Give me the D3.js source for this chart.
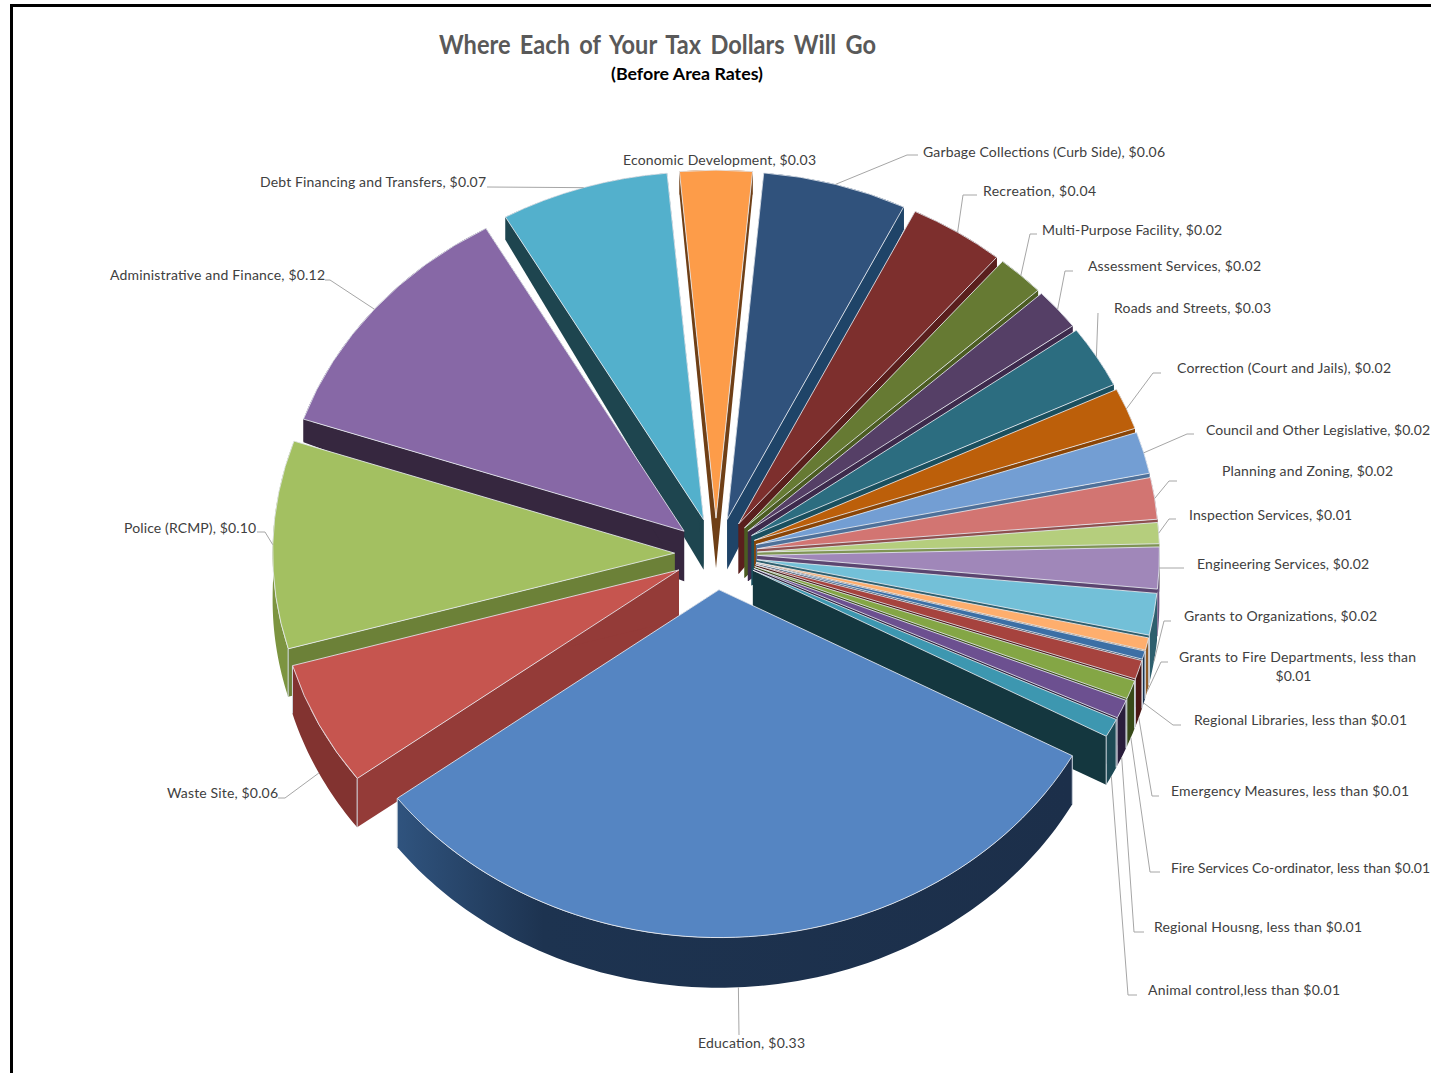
<!DOCTYPE html>
<html>
<head>
<meta charset="utf-8">
<style>
html,body{margin:0;padding:0;background:#fff;overflow:hidden}
svg{display:block}
text{font-family:Lato,"Open Sans",sans-serif}
</style>
<script src="https://cdn.jsdelivr.net/npm/d3@7/dist/d3.min.js"></script>
</head>
<body>
<script>
// Budget shares, clockwise from the right-hand edge of Education.
const categories = ["Education","Waste Site","Police (RCMP)","Administrative and Finance","Debt Financing and Transfers","Economic Development","Garbage Collections (Curb Side)","Recreation","Multi-Purpose Facility","Assessment Services","Roads and Streets","Correction (Court and Jails)","Council and Other Legislative","Planning and Zoning","Inspection Services","Engineering Services","Grants to Organizations","Grants to Fire Departments","Regional Libraries","Emergency Measures","Fire Services Co-ordinator","Regional Housng","Animal control"];
const values = [0.33,0.06,0.10,0.12,0.07,0.03,0.06,0.04,0.02,0.02,0.03,0.02,0.02,0.02,0.01,0.02,0.02,0.006,0.004,0.009,0.009,0.009,0.009];
const valueLabels = ["$0.33","$0.06","$0.10","$0.12","$0.07","$0.03","$0.06","$0.04","$0.02","$0.02","$0.03","$0.02","$0.02","$0.02","$0.01","$0.02","$0.02","less than $0.01","less than $0.01","less than $0.01","less than $0.01","less than $0.01","less than $0.01"];

const topColors = ["#5585C2","#C6554F","#A3C061","#8768A6","#53B0CC","#FD9C49","#30527C","#7D2F2D","#667A33","#553F66","#2C6D80","#BC5F0A","#739ED3","#D27572","#B5CE7D","#A087B9","#73C0D8","#FEAE6D","#3C6FA5","#A6433E","#84A645","#6C5090","#3D97B0"];
const wallColors = ["#2F527C","#943B38","#6C8138","#36273F","#1E454F","#6F3F16","#1F4468","#5A1F1D","#4B5C22","#3D2A4C","#1A4F5E","#8A4506","#4E7099","#8E4F4E","#7F9454","#5B4570","#2E5F6E","#8F5A26","#18324F","#4A1614","#384A18","#2A1E3C","#14373F"];
const rimColors = ["#1C3050","#823330","#7C9440","#36273F","#1E454F","#6F3F16","#1F4468","#5A1F1D","#4B5C22","#3D2A4C","#1A4F5E","#8A4506","#4E7099","#8E4F4E","#7F9454","#6B5580","#2E5F6E","#8F5A26","#18324F","#4A1614","#384A18","#2A1E3C","#1D4A55"];

// Label placement: left edge, right edge, vertical centre.
const labelLeft  = [698,167,124,110,260,623,923,983,1042,1088,1114,1177,1206,1222,1189,1197,1184,1179,1194,1171,1171,1154,1148];
const labelRight = [805,278,256,325,486,816,1165,1096,1222,1261,1271,1391,1430,1393,1352,1369,1377,1416,1407,1409,1430,1362,1340];
const labelMiddle = [1043,793,528,275,182,160,152,191,230,266,308,368,430,471,515,564,616,657,720,791,868,927,990];
// Leader-line bends running from the slice edge out to its label.
const leaderBends = [
  [[739,1035]],
  [[285,798],[278,798]],
  [[265,532],[257,532]],
  [[330,280],[325,280]],
  [[487,187]],
  [],
  [[907,155],[918,155]],
  [[963,195],[977,195]],
  [[1030,234],[1037,234]],
  [[1065,271],[1073,271]],
  [[1098,313]],
  [[1153,373],[1161,373]],
  [[1187,434],[1194,434]],
  [[1169,481],[1177,481]],
  [[1169,519],[1176,519]],
  [[1177,568],[1184,568]],
  [[1164,621],[1171,621]],
  [[1161,662],[1168,662]],
  [[1173,725],[1181,725]],
  [[1152,796],[1159,796]],
  [[1150,872],[1160,872]],
  [[1134,932],[1144,932]],
  [[1128,995],[1137,995]]
];
// Leaders that leave from the foot of the side wall instead of the top face.
const leaderFromFoot = new Set([0,1,16,17,18,19,20,21,22]);
// Education's leader drops straight down, slightly past the slice's middle.
const leaderNudgeDeg = new Map([[0,1.4]]);

const width = 1431, height = 1073;
const centre = {x:716, y:554}, rx = 402, ry = 348, explode = 0.103;
const startDeg = 118.5;

const svg = d3.select("body").append("svg").attr("width",width).attr("height",height);

// Education's outer wall fades from a lit blue on the left into navy.
const grad = svg.append("defs").append("linearGradient").attr("id","rimEducation")
  .attr("gradientUnits","userSpaceOnUse").attr("x1",395).attr("x2",1070).attr("y1",0).attr("y2",0);
grad.append("stop").attr("offset",0).attr("stop-color","#30547F");
grad.append("stop").attr("offset",0.22).attr("stop-color","#1D3350");
grad.append("stop").attr("offset",1).attr("stop-color","#1C2F4A");

// Frame: heavy rule along the top and left of the sheet.
svg.append("rect").attr("x",10).attr("y",4).attr("width",width).attr("height",3).attr("fill","#000");
svg.append("rect").attr("x",10).attr("y",4).attr("width",3).attr("height",height).attr("fill","#000");

const start = startDeg*Math.PI/180;
const pie = d3.pie().sort(null).value(d=>d).startAngle(start).endAngle(start+2*Math.PI);
const arcs = pie(values).map((a,i)=>({...a,i,mid:(a.startAngle+a.endAngle)/2}));

const arcGen = d3.arc().innerRadius(0).outerRadius(1);
const apex = a => ({x:centre.x+Math.sin(a.mid)*explode*rx, y:centre.y-Math.cos(a.mid)*explode*ry});
const rimPoint = (a,t) => {
  const o = apex(a);
  return {x:o.x+Math.sin(t)*rx, y:o.y-Math.cos(t)*ry, uy:-Math.cos(t)};
};
// The extrusion reads shallower toward the far side of the disc.
const rimDepth = uy => uy>=0 ? 47+3*uy : 23+24*Math.max(0,(uy+0.28)/0.28);
const apexDepth = 50;

const line = d3.line().x(d=>d[0]).y(d=>d[1]);
const order = arcs.slice().sort((p,q)=>d3.descending(Math.cos(p.mid),Math.cos(q.mid)));

const slices = svg.append("g").selectAll("g").data(order).join("g");

slices.each(function(a){
  const g = d3.select(this), o = apex(a);
  // Radial side walls.
  [a.startAngle,a.endAngle].forEach(t=>{
    const r = rimPoint(a,t), d = rimDepth(r.uy);
    g.append("path")
      .attr("d",line([[o.x,o.y],[r.x,r.y],[r.x,r.y+d],[o.x,o.y+apexDepth]])+"Z")
      .attr("fill",wallColors[a.i]);
  });
  // Outer curved wall.
  const n = Math.max(4,Math.ceil((a.endAngle-a.startAngle)*60));
  const ts = d3.range(n+1).map(k=>a.startAngle+(a.endAngle-a.startAngle)*k/n);
  const upper = ts.map(t=>rimPoint(a,t));
  const poly = upper.map(p=>[p.x,p.y]).concat(upper.slice().reverse().map(p=>[p.x,p.y+rimDepth(p.uy)]));
  g.append("path").attr("d",line(poly)+"Z")
    .attr("fill",a.i===0?"url(#rimEducation)":rimColors[a.i]);
  // Pale arris where the walls meet at each rim corner.
  [a.startAngle,a.endAngle].forEach(t=>{
    const r = rimPoint(a,t);
    if (r.uy>0.1) g.append("line").attr("x1",r.x).attr("x2",r.x).attr("y1",r.y).attr("y2",r.y+rimDepth(r.uy))
      .attr("stroke","#D5DBE2").attr("stroke-width",1);
  });
  // Top face: unit arc scaled into the tilted ellipse.
  g.append("path")
    .attr("d",arcGen(a))
    .attr("transform",`translate(${o.x},${o.y}) scale(${rx},${ry})`)
    .attr("fill",topColors[a.i])
    .attr("stroke","#E6EAF0").attr("stroke-width",1).attr("stroke-opacity",0.85)
    .attr("vector-effect","non-scaling-stroke")
    .style("vector-effect","non-scaling-stroke");
});

// Leader lines.
svg.append("g").selectAll("path").data(arcs.filter(a=>leaderBends[a.i].length)).join("path")
  .attr("d",a=>{
    const nudge = (leaderNudgeDeg.get(a.i)||0)*Math.PI/180;
    const r = rimPoint(a,a.mid+nudge);
    const y0 = leaderFromFoot.has(a.i) ? r.y+rimDepth(r.uy) : r.y;
    return line([[r.x,y0]].concat(leaderBends[a.i]));
  })
  .attr("fill","none").attr("stroke","#A6A6A6").attr("stroke-width",1);

// Slice labels, fitted to the width each one occupies.
const labels = svg.append("g").attr("fill","#404040").style("font-size","14px");
arcs.forEach(a=>{
  const i = a.i;
  if (categories[i]==="Grants to Fire Departments") {
    labels.append("text").attr("x",labelLeft[i]).attr("y",labelMiddle[i]+5)
      .attr("textLength",labelRight[i]-labelLeft[i]).attr("lengthAdjust","spacing")
      .text("Grants to Fire Departments, less than");
    labels.append("text").attr("x",(labelLeft[i]+labelRight[i])/2-4).attr("y",labelMiddle[i]+24)
      .attr("text-anchor","middle").text("$0.01");
    return;
  }
  const sep = categories[i]==="Animal control" ? "," : ", ";
  labels.append("text").attr("x",labelLeft[i]).attr("y",labelMiddle[i]+5)
    .attr("textLength",labelRight[i]-labelLeft[i]).attr("lengthAdjust","spacing")
    .text(categories[i]+sep+valueLabels[i]);
});

// Headings.
svg.append("text").attr("x",439).attr("y",54).attr("textLength",437).attr("lengthAdjust","spacingAndGlyphs")
  .attr("fill","#595959").style("font-size","26px").style("font-weight",700).style("word-spacing","4px")
  .text("Where Each of Your Tax Dollars Will Go");
svg.append("text").attr("x",611).attr("y",80).attr("textLength",152).attr("lengthAdjust","spacingAndGlyphs")
  .attr("fill","#000").style("font-size","17px").style("font-weight",700)
  .text("(Before Area Rates)");
</script>
</body>
</html>
